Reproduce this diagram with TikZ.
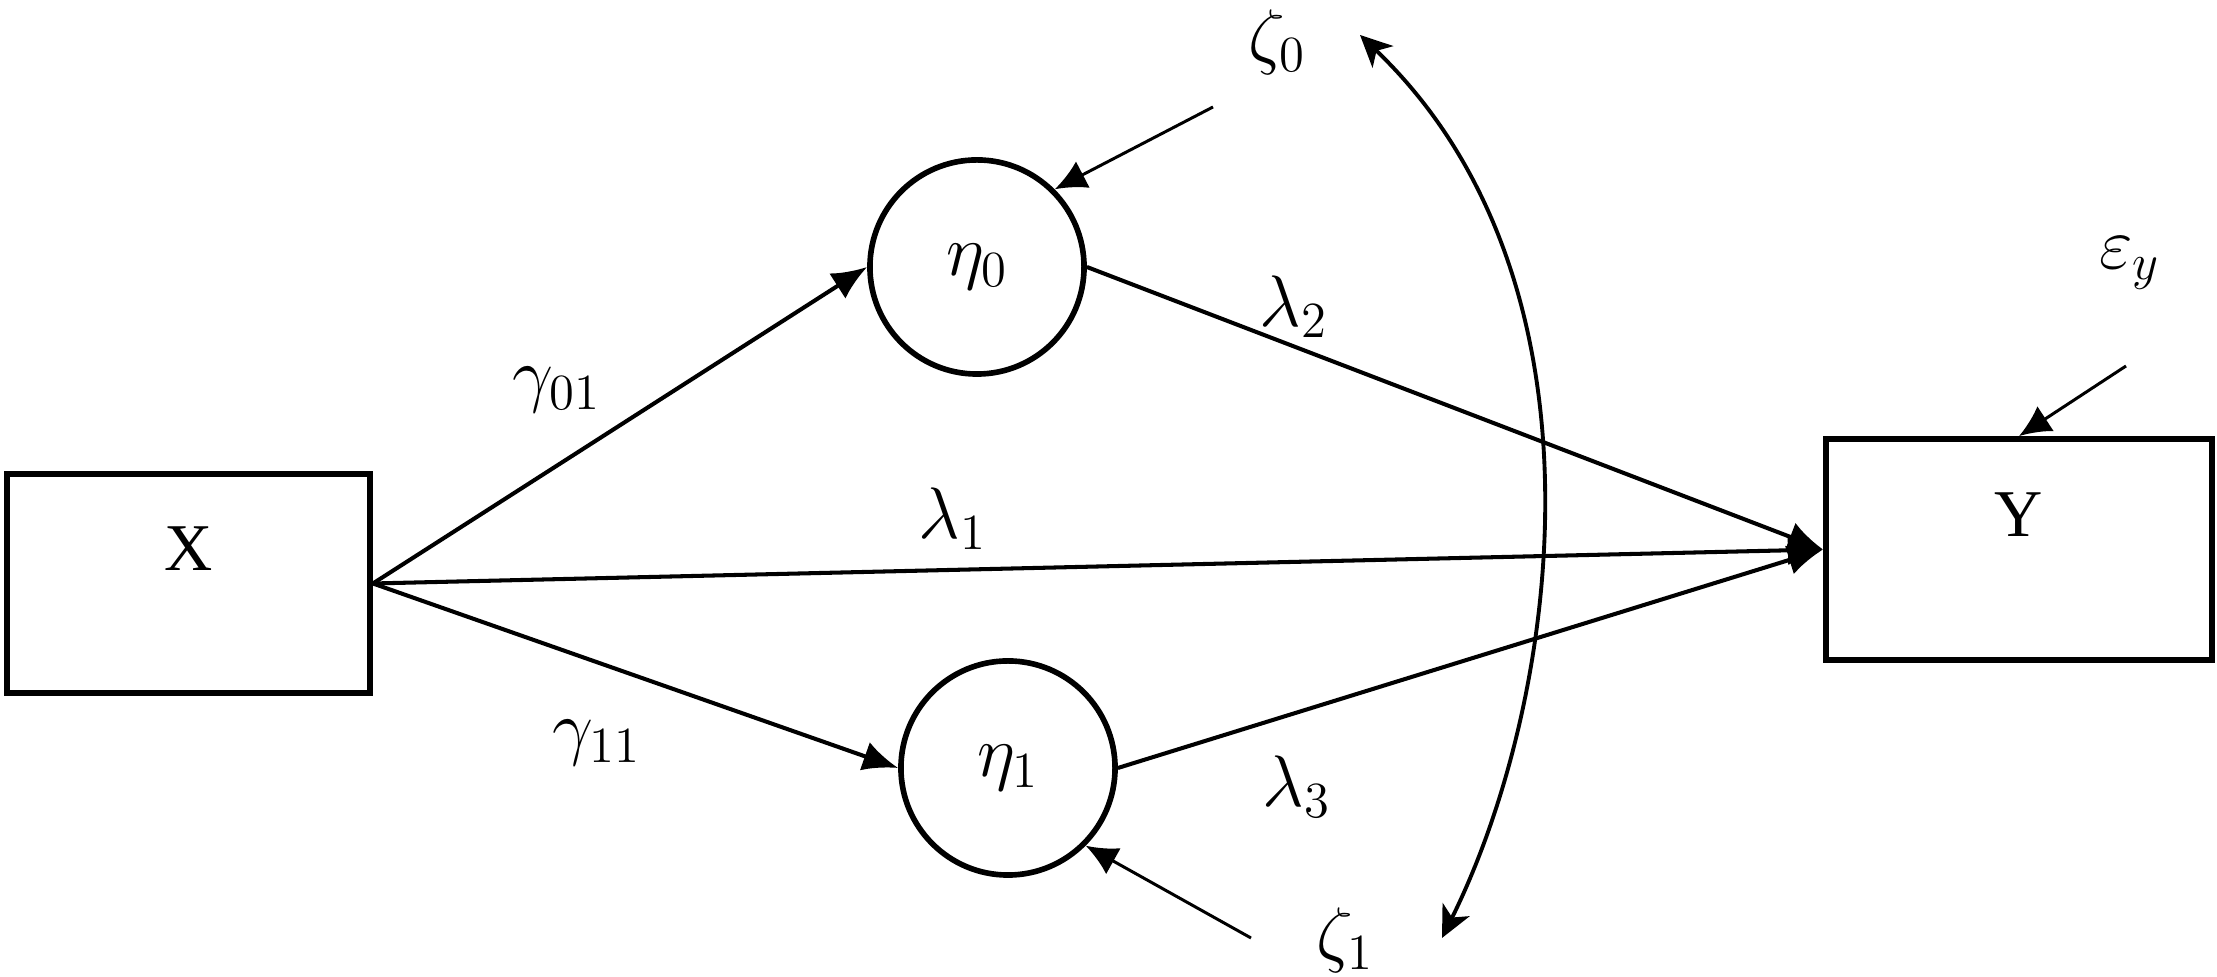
\documentclass[tikz,border=0pt]{standalone}
\usepackage{fontspec}
\newfontfamily\tms{Liberation Serif}
\usetikzlibrary{arrows.meta}
\begin{document}
\begin{tikzpicture}[x=0.01cm,y=-0.01cm]
\tikzset{
  obsbox/.style={draw, line width=1.6pt, inner sep=0pt, font=\tms\fontsize{19}{22}\selectfont, text height=0.44cm, text depth=0.70cm},
  latcirc/.style={circle, draw, line width=1.6pt, minimum size=2.14cm, inner sep=0pt, font=\fontsize{20}{24}\selectfont},
  pth/.style={line width=1.15pt, -{Latex[length=10pt,width=8.5pt]}},
  distarrow/.style={line width=0.85pt, -{Latex[length=9pt,width=8.5pt]}},
  covarrow/.style={line width=1.1pt, {Stealth[length=9pt,width=8.5pt,inset=2.5pt]}-{Stealth[length=9pt,width=8.5pt,inset=2.5pt]}},
  lbl/.style={inner sep=0pt, font=\fontsize{20}{24}\selectfont},
}
\useasboundingbox (0,0) rectangle (2217,977);

% nodes
\node[obsbox, minimum width=3.63cm, minimum height=2.19cm] (X) at (188.5,583.5) {X};
\node[obsbox, minimum width=3.86cm, minimum height=2.21cm] (Y) at (2019,549.5) {Y};
\node[latcirc] (eta0) at (977,267) {$\eta_0$};
\node[latcirc] (eta1) at (1008,768) {$\eta_1$};

% labels
\node[lbl] (g01) at (557,390) {$\gamma_{01}$};
\node[lbl] (g11) at (597,743) {$\gamma_{11}$};
\node[lbl] (l1) at (953,519) {$\lambda_1$};
\node[lbl] (l2) at (1294,307) {$\lambda_2$};
\node[lbl] (l3) at (1297,787) {$\lambda_3$};
\node[lbl] (z0) at (1277,42) {$\zeta_0$};
\node[lbl] (z1) at (1345,940) {$\zeta_1$};
\node[lbl] (ey) at (2130,263) {$\varepsilon_y$};

% free ends
\coordinate (z0s) at (1213,107);
\coordinate (z1s) at (1251,938);
\coordinate (eys) at (2126,366);
\coordinate (c0) at (1360,35);
\coordinate (c1) at (1442,938);

% structural paths
\draw[pth] (X.east) -- (eta0.west);
\draw[pth] (X.east) -- (eta1.west);
\draw[pth] (X.east) -- (Y.west);
\draw[pth] (eta0.east) -- (Y.west);
\draw[pth] (eta1.east) -- (Y.west);

% disturbances
\draw[distarrow] (z0s) -- (eta0.45);
\draw[distarrow] (z1s) -- (eta1.-45);
\draw[distarrow] (eys) -- (Y.north);

% covariance
\draw[covarrow] (c0) .. controls (1618,282) and (1560,700) .. (c1);
\end{tikzpicture}
\end{document}
